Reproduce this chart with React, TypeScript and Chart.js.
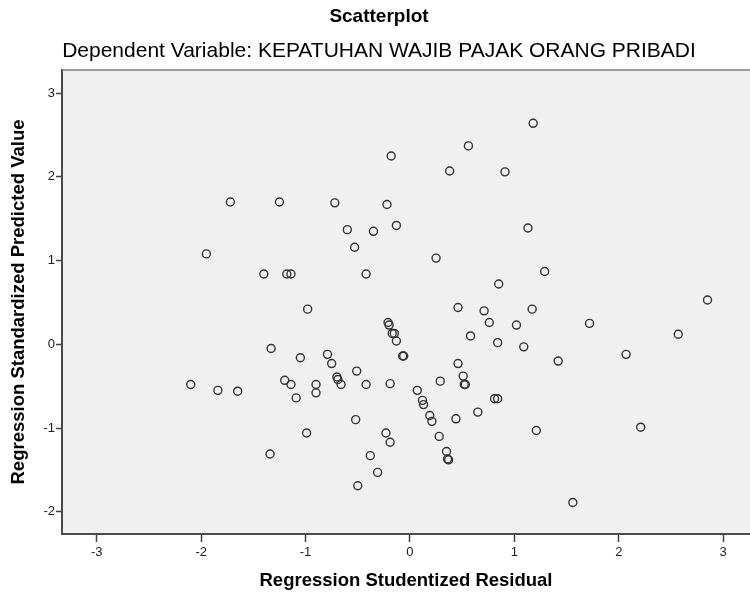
import React, { useEffect, useRef } from "react";
import Chart from "chart.js/auto";

const residuals: number[] = [
  -1.72, -1.95, -2.10, -1.84, -1.65, -1.25, -0.72, -0.18, -0.22, 0.56,
  0.38, -0.60, -0.35, -0.13, -0.53, 0.25, -1.40, -1.18, -1.14, -0.42,
  -0.98, 0.46, 0.71, 0.85, 1.18, 0.91, 1.13, 1.29, 2.85, 1.17,
  1.02, 0.84, 1.72, 1.09, 1.42, 2.07, 2.57, 0.81, 0.84, 1.21,
  2.21, 1.56, -1.33, -1.05, -1.20, -1.14, -1.09, -0.90, -0.90, -0.79,
  -0.75, -0.70, -0.69, -0.66, -0.51, -0.42, -0.19, -0.21, -0.20, -0.17,
  -0.15, -0.13, -0.07, -0.06, 0.07, 0.12, 0.13, 0.19, 0.21, 0.28,
  0.35, 0.36, 0.37, 0.29, 0.46, 0.51, 0.52, 0.53, 0.58, 0.76,
  0.44, 0.65, -0.52, -0.99, -1.34, -0.23, -0.19, -0.38, -0.31, -0.50,
];

const predicted: number[] = [
  1.70, 1.08, -0.48, -0.55, -0.56, 1.70, 1.69, 2.25, 1.67, 2.37,
  2.07, 1.37, 1.35, 1.42, 1.16, 1.03, 0.84, 0.84, 0.84, 0.84,
  0.42, 0.44, 0.40, 0.72, 2.64, 2.06, 1.39, 0.87, 0.53, 0.42,
  0.23, 0.02, 0.25, -0.03, -0.20, -0.12, 0.12, -0.65, -0.65, -1.03,
  -0.99, -1.89, -0.05, -0.16, -0.43, -0.48, -0.64, -0.48, -0.58, -0.12,
  -0.23, -0.39, -0.42, -0.48, -0.32, -0.48, -0.47, 0.26, 0.23, 0.13,
  0.13, 0.04, -0.14, -0.14, -0.55, -0.67, -0.72, -0.85, -0.92, -1.10,
  -1.28, -1.37, -1.38, -0.44, -0.23, -0.38, -0.48, -0.48, 0.10, 0.26,
  -0.89, -0.81, -0.90, -1.06, -1.31, -1.06, -1.17, -1.33, -1.53, -1.69,
];

const xTicks: number[] = [-3, -2, -1, 0, 1, 2, 3];
const yTicks: number[] = [-2, -1, 0, 1, 2, 3];

const chartTitle = "Scatterplot";
const chartSubtitle = "Dependent Variable: KEPATUHAN WAJIB PAJAK ORANG PRIBADI";
const xTitle = "Regression Studentized Residual";
const yTitle = "Regression Standardized Predicted Value";

const FONT = 'Arial, "Liberation Sans", Helvetica, sans-serif';

const plotFrame = {
  id: "plotFrame",
  beforeDraw(chart: any) {
    const { ctx, chartArea } = chart;
    ctx.save();
    ctx.fillStyle = "#f0f0f0";
    ctx.fillRect(chartArea.left, chartArea.top, chartArea.right - chartArea.left, chartArea.bottom - chartArea.top);
    ctx.restore();
  },
  afterDraw(chart: any) {
    const { ctx, chartArea } = chart;
    ctx.save();
    ctx.strokeStyle = "#808080";
    ctx.lineWidth = 1.5;
    ctx.beginPath();
    ctx.moveTo(chartArea.left, chartArea.top);
    ctx.lineTo(chartArea.right, chartArea.top);
    ctx.stroke();
    ctx.restore();
  },
};

export default function App() {
  const ref = useRef<HTMLCanvasElement | null>(null);

  useEffect(() => {
    if (!ref.current) return;
    const points = residuals.map((x, i) => ({ x, y: predicted[i] }));
    const chart = new Chart(ref.current, {
      type: "scatter",
      data: {
        datasets: [
          {
            data: points,
            pointRadius: 4,
            pointHoverRadius: 4,
            pointBorderWidth: 1.4,
            pointBorderColor: "#333333",
            pointBackgroundColor: "rgba(0,0,0,0)",
            showLine: false,
          },
        ],
      },
      options: {
        responsive: false,
        animation: false,
        layout: { autoPadding: false, padding: { left: 8, right: 0, top: 0, bottom: 0 } },
        plugins: {
          legend: { display: false },
          tooltip: { enabled: false },
          title: {
            display: true,
            text: chartTitle,
            color: "#000",
            font: { family: FONT, size: 19, weight: "bold" },
            padding: { top: 5, bottom: 2 },
          },
          subtitle: {
            display: true,
            text: chartSubtitle,
            color: "#000",
            font: { family: FONT, size: 21, weight: "normal" },
            padding: { top: 9.3, bottom: 5.7 },
          },
        },
        scales: {
          x: {
            type: "linear",
            min: -3.333,
            max: 3.257,
            afterFit(scale: any) {
              scale.height = 60;
            },
            afterBuildTicks(scale: any) {
              scale.ticks = xTicks.map((v) => ({ value: v }));
            },
            grid: {
              display: true,
              drawOnChartArea: false,
              drawTicks: true,
              tickLength: 8,
              tickWidth: 1.5,
              tickColor: "#444",
            },
            border: { display: true, color: "#4a4a4a", width: 2 },
            ticks: {
              color: "#222",
              font: { family: FONT, size: 13 },
              padding: 3,
              maxRotation: 0,
              callback: (v: any) => String(v),
            },
            title: {
              display: true,
              text: xTitle,
              color: "#000",
              font: { family: FONT, size: 18.5, weight: "bold" },
              padding: { top: 0, bottom: 2 },
            },
          },
          y: {
            type: "linear",
            min: -2.266,
            max: 3.277,
            afterFit(scale: any) {
              scale.width = 54;
            },
            afterBuildTicks(scale: any) {
              scale.ticks = yTicks.map((v) => ({ value: v }));
            },
            grid: {
              display: true,
              drawOnChartArea: false,
              drawTicks: true,
              tickLength: 6,
              tickWidth: 1.5,
              tickColor: "#444",
            },
            border: { display: true, color: "#4a4a4a", width: 2 },
            ticks: {
              color: "#222",
              font: { family: FONT, size: 13 },
              padding: 1,
              callback: (v: any) => String(v),
            },
            title: {
              display: true,
              text: yTitle,
              color: "#000",
              font: { family: FONT, size: 18.5, weight: "bold" },
              padding: { top: 0, bottom: 0 },
            },
          },
        },
      },
      plugins: [plotFrame],
    });
    return () => chart.destroy();
  }, []);

  return (
    <div style={{ position: "absolute", left: 0, top: 0, width: 750, height: 594, background: "#fff" }}>
      <canvas ref={ref} width={750} height={594} style={{ display: "block" }} />
    </div>
  );
}
